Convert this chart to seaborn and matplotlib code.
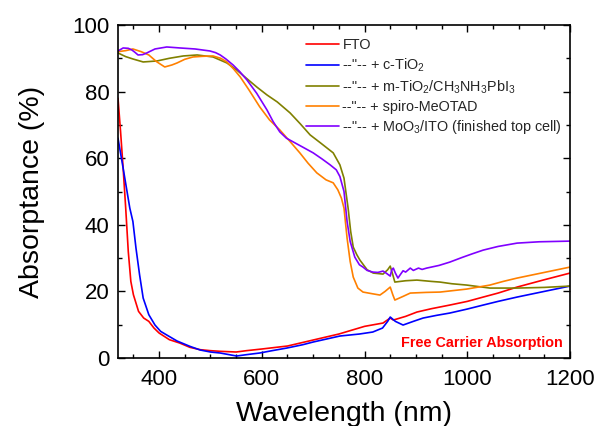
import numpy as np
import pandas as pd
import matplotlib
matplotlib.use("Agg")
import matplotlib.pyplot as plt
from matplotlib.ticker import MultipleLocator
import seaborn as sns

# Absorptance spectra of the perovskite top-cell layer stack
fto_wl = [320, 325, 330, 335, 340, 345, 350, 360, 370, 380, 390, 400, 410, 420, 440,
          460, 480, 500, 520, 550, 570, 600, 650, 700, 750, 800, 836, 850, 856, 880,
          902, 930, 966, 1000, 1031, 1060, 1097, 1150, 1200]
fto_abs = [78, 68, 57, 45, 32, 23, 19, 14, 12, 11, 9, 7.5, 6.5, 5.5, 4.5,
           3.2, 2.5, 2.2, 2.0, 1.8, 2.2, 2.7, 3.6, 5.4, 7.2, 9.5, 10.5, 12, 11.4, 12.5,
           13.8, 14.8, 15.9, 17, 18.3, 19.5, 21.3, 23.5, 25.5]

ctio2_wl = [320, 330, 343, 349, 355, 362, 369, 380, 392, 403, 415, 435, 460, 480, 500,
            519, 540, 551, 570, 596, 620, 649, 680, 700, 752, 790, 816, 835, 845, 850,
            860, 875, 895, 914, 940, 966, 1000, 1031, 1060, 1097, 1150, 1200]
ctio2_abs = [66, 57, 45, 41, 33, 25, 18, 13, 9.9, 8, 6.9, 5.1, 3.5, 2.4, 1.8,
             1.5, 0.9, 0.6, 1.0, 1.5, 2.2, 3.0, 4.0, 4.8, 6.6, 7.2, 7.8, 9, 11, 12.3,
             11, 9.9, 11, 12, 12.8, 13.5, 14.7, 15.9, 17, 18.3, 20, 21.6]

mapi_wl = [320, 335, 349, 369, 396, 420, 447, 474, 505, 532, 551, 570, 590, 610, 630,
           655, 675, 694, 715, 739, 752, 760, 768, 773, 778, 785, 791, 805, 817, 836,
           845, 850, 855, 859, 880, 902, 930, 947, 970, 999, 1044, 1097, 1150, 1200]
mapi_abs = [91.6, 90.5, 89.8, 88.9, 89.2, 90, 90.7, 91, 90.4, 88.6, 86.5, 84, 81.4, 79, 76.9,
            73.6, 70.3, 67, 64.5, 61.6, 58, 54, 45, 38, 33.3, 31, 29.4, 26.5, 25.5, 25.2,
            26.5, 27.6, 25, 22.8, 23.2, 23.4, 23, 22.8, 22.3, 21.9, 21, 21, 21.2, 21.6]

spiro_wl = [320, 335, 349, 365, 380, 395, 411, 425, 435, 450, 466, 485, 505, 520, 532,
            545, 558, 575, 596, 615, 635, 655, 674, 690, 707, 725, 739, 748, 755, 760,
            766, 772, 778, 787, 797, 815, 830, 840, 850, 855, 859, 875, 889, 920, 947,
            970, 999, 1044, 1070, 1097, 1150, 1200]
spiro_abs = [92, 92.3, 92.8, 92, 91, 89, 87.4, 88, 88.6, 89.7, 90.4, 90.6, 90.7, 90, 88.9,
             86.8, 84.4, 80.5, 75.4, 71.5, 68.5, 65, 61.6, 58.5, 55.6, 53.5, 52.6, 50.5, 48, 45,
             36, 29, 24.3, 21, 19.8, 19.3, 18.9, 20, 21.3, 19, 17.4, 18.5, 19.5, 19.7, 19.8,
             20.2, 20.7, 21.9, 23, 24, 25.7, 27.3]

moo3_wl = [320, 330, 340, 347, 353, 359, 368, 376, 392, 415, 441, 470, 499, 510, 519,
           530, 544, 557, 571, 590, 610, 622, 635, 648, 661, 680, 700, 717, 733, 745,
           752, 760, 766, 772, 781, 790, 797, 805, 816, 826, 836, 842, 850, 853, 856,
           860, 865, 869, 875, 880, 889, 895, 905, 912, 921, 930, 945, 966, 990, 1010,
           1031, 1060, 1097, 1140, 1200]
moo3_abs = [92.2, 93.1, 93, 92.5, 91.8, 91, 91.1, 91.6, 92.8, 93.4, 93.1, 92.8, 92.2, 91.7, 91,
            89.8, 88, 86, 83.5, 79.5, 74.5, 71, 67.9, 66, 64.9, 63.3, 61.6, 59.8, 58, 56.5,
            54.5, 50, 41, 35, 30.3, 28, 27.3, 26.3, 25.8, 25.7, 26.1, 25.5, 24.6, 26.5, 27,
            25.5, 24, 24.9, 26.2, 25.8, 27, 26.3, 27, 26.6, 27, 27.3, 27.8, 28.8, 30.2, 31.3,
            32.4, 33.5, 34.5, 34.9, 35.1]

series_labels = [
    "FTO",
    '--"-- + c-TiO$_2$',
    '--"-- + m-TiO$_2$/CH$_3$NH$_3$PbI$_3$',
    '--"-- + spiro-MeOTAD',
    '--"-- + MoO$_3$/ITO (finished top cell)',
]
series_colors = ["#ff0000", "#0000ff", "#808000", "#ff8000", "#8000ff"]

frames = []
for lab, wl, ab in zip(series_labels,
                       [fto_wl, ctio2_wl, mapi_wl, spiro_wl, moo3_wl],
                       [fto_abs, ctio2_abs, mapi_abs, spiro_abs, moo3_abs]):
    frames.append(pd.DataFrame({"wavelength": wl, "absorptance": ab, "layer": lab}))
df = pd.concat(frames, ignore_index=True)

sns.set_theme(style="ticks")
plt.rcParams["font.family"] = ["Liberation Sans", "DejaVu Sans"]
plt.rcParams["mathtext.fontset"] = "custom"
plt.rcParams["mathtext.rm"] = "Liberation Sans"
plt.rcParams["mathtext.it"] = "Liberation Sans"
plt.rcParams["mathtext.default"] = "regular"

fig = plt.figure(figsize=(6.0, 4.26), dpi=100)
ax = fig.add_axes([118 / 600, 1 - 358 / 426, 452 / 600, 333 / 426])

sns.lineplot(data=df, x="wavelength", y="absorptance", hue="layer",
             hue_order=series_labels, palette=series_colors,
             estimator=None, sort=True, linewidth=1.2, ax=ax)

ax.set_xlim(320, 1200)
ax.set_ylim(0, 100)
ax.xaxis.set_major_locator(MultipleLocator(200))
ax.xaxis.set_minor_locator(MultipleLocator(50))
ax.yaxis.set_major_locator(MultipleLocator(20))
ax.yaxis.set_minor_locator(MultipleLocator(10))
ax.tick_params(which="both", direction="in", top=True, right=True,
               color="black", width=1.0)
ax.tick_params(which="major", length=5, labelsize=16, labelcolor="black", pad=6)
ax.tick_params(axis="x", which="major", pad=8)
ax.tick_params(which="minor", length=3)
for sp in ax.spines.values():
    sp.set_visible(True)
    sp.set_color("black")
    sp.set_linewidth(1.2)

ax.set_xlabel("Wavelength (nm)", fontsize=20.5, color="black", labelpad=8)
ax.set_ylabel("Absorptance (%)", fontsize=20.5, color="black", labelpad=20)

handles, labels = ax.get_legend_handles_labels()
ax.legend(handles, labels, loc="upper left", bbox_to_anchor=(0.415, 0.96),
          frameon=False, fontsize=10.4, handlelength=2.3, handletextpad=0.25,
          labelspacing=0.3, borderpad=0, borderaxespad=0)

ax.text(0.985, 0.045, "Free Carrier Absorption", transform=ax.transAxes,
        ha="right", va="center", color="#ff0000", fontsize=10.4, fontweight="bold")

fig.savefig("out.png", dpi=100)
